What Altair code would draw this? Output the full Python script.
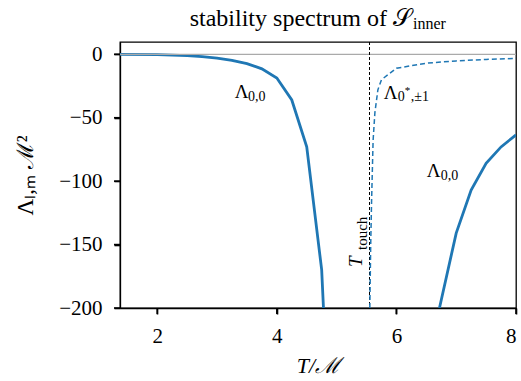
import altair as alt
import pandas as pd

# lower-T branch Λ_{0,0}
T_a = [1.377, 2.0, 2.5, 2.75, 3.0, 3.25, 3.5, 3.75, 4.0, 4.25, 4.5, 4.75, 4.78]
L_a = [0.0, -0.3, -1.0, -1.8, -3.0, -4.8, -7.3, -11.5, -18.7, -36.0, -73.0, -170.0, -200.0]

# dashed branch Λ_{0*,±1}
T_b = [5.555, 5.57, 5.585, 5.61, 5.64, 5.69, 5.75, 6.0, 6.5, 7.0, 7.5, 8.0]
L_b = [-200.0, -150.0, -115.0, -68.0, -46.0, -28.0, -20.0, -11.0, -7.0, -5.2, -4.0, -3.2]

# higher-T branch Λ_{0,0}
T_c = [6.72, 7.0, 7.25, 7.5, 7.75, 8.0]
L_c = [-200.0, -141.0, -107.0, -86.0, -73.0, -63.5]

T_touch = 5.55
x_ticks = [2, 4, 6, 8]
y_ticks = [0, -50, -100, -150, -200]

BLUE = "#1f77b4"
SERIF = "Liberation Serif"

xsc = alt.Scale(domain=[1.377, 8.0], nice=False, zero=False)
ysc = alt.Scale(domain=[-200, 9.7], nice=False, zero=False)

tick_kw = dict(ticks=True, tickSize=6, tickWidth=1.6, tickColor="black", tickOpacity=1,
               domain=True, domainColor="black", domainWidth=1.3,
               labelFont=SERIF, labelFontSize=21, labelColor="black",
               titleFont=SERIF, titleColor="black", titleFontWeight="normal", grid=False)

x_axis = alt.Axis(values=x_ticks, format="d", title="T/ℳ",
                  titleX=198, titleY=64, titleBaseline="alphabetic", titleFontSize=22,
                  titleFontStyle="italic", labelPadding=11, **tick_kw)
y_axis = alt.Axis(values=y_ticks, format="d", title="Λₗ,ₘ ℳ²", titleFontSize=23,
                  titleX=-88, titleY=133, titleAngle=270, labelPadding=12,
                  titleBaseline="alphabetic", titleAlign="center", **tick_kw)


def X():
    return alt.X("T:Q", scale=xsc, axis=x_axis)


def Y():
    return alt.Y("L:Q", scale=ysc, axis=y_axis)


dfa = pd.DataFrame({"T": T_a, "L": L_a})
dfb = pd.DataFrame({"T": T_b, "L": L_b})
dfc = pd.DataFrame({"T": T_c, "L": L_c})

base_a = alt.Chart(dfa).mark_line(color=BLUE, strokeWidth=2.8, clip=True).encode(x=X(), y=Y(), order="T:Q")
base_b = alt.Chart(dfb).mark_line(color=BLUE, strokeWidth=1.5, strokeDash=[5, 3], clip=True).encode(
    x=X(), y=Y(), order="T:Q")
base_c = alt.Chart(dfc).mark_line(color=BLUE, strokeWidth=2.8, clip=True).encode(
    x=X(), y=Y(), order="T:Q")

hline = alt.Chart(pd.DataFrame({"L": [0.0]})).mark_rule(color="#aaaaaa", strokeWidth=1.2).encode(y=Y())
vline = alt.Chart(pd.DataFrame({"T": [T_touch]})).mark_rule(
    color="black", strokeWidth=1, strokeDash=[3, 2]).encode(x=X())

# outward tick marks drawn from the tick value arrays
xt = alt.Chart(pd.DataFrame({"T": x_ticks})).mark_rule(color="black", strokeWidth=1.6, clip=False).encode(
    x=X(), y=alt.value(266), y2=alt.value(272))
yt = alt.Chart(pd.DataFrame({"L": y_ticks})).mark_rule(color="black", strokeWidth=1.6, clip=False).encode(
    y=Y(), x=alt.value(-6), x2=alt.value(0))

# annotation texts (anchor in data coords)
ann_text = ["Λ", "0,0", "Λ", "0", "*", ",±1", "Λ", "0,0"]
ann_T = [3.298, 3.516, 5.788, 6.022, 6.139, 6.239, 6.507, 6.741]
ann_L = [-34.8, -36.8, -35.2, -36.8, -31.0, -36.8, -97.1, -99.1]
ann_size = [19, 14, 19, 14, 11, 14, 19, 14]
ann = pd.DataFrame({"text": ann_text, "T": ann_T, "L": ann_L, "size": ann_size})
labels = alt.Chart(ann).mark_text(align="left", baseline="alphabetic", font=SERIF, color="black").encode(
    x=X(), y=Y(), text="text:N", size=alt.Size("size:Q", scale=None, legend=None))

rot = pd.DataFrame({"text": ["T", "touch"], "T": [5.420, 5.504], "L": [-167.7, -154.3],
                    "size": [19, 15]})
rot_t = alt.Chart(rot.iloc[[0]]).mark_text(align="left", baseline="alphabetic", font=SERIF, angle=270,
                                             fontStyle="italic", color="black").encode(
    x=X(), y=Y(), text="text:N", size=alt.Size("size:Q", scale=None, legend=None))
rot_s = alt.Chart(rot.iloc[[1]]).mark_text(align="left", baseline="alphabetic", font=SERIF, angle=270,
                                             color="black").encode(
    x=X(), y=Y(), text="text:N", size=alt.Size("size:Q", scale=None, legend=None))

title_main = alt.Chart(pd.DataFrame({"t": ["stability spectrum of 𝒮"]})).mark_text(
    align="right", baseline="alphabetic", font=SERIF, fontSize=24, color="black").encode(
    x=alt.value(292), y=alt.value(-16), text="t:N")
title_sub = alt.Chart(pd.DataFrame({"t": ["inner"]})).mark_text(
    align="left", baseline="alphabetic", font=SERIF, fontSize=16, color="black").encode(
    x=alt.value(293), y=alt.value(-13), text="t:N")

chart = alt.layer(base_a, hline, vline, base_b, base_c, xt, yt, labels, rot_t, rot_s,
                  title_main, title_sub).properties(
    width=396, height=266,
    autosize=alt.AutoSizeParams(type="none"),
    padding={"left": 120, "top": 42, "right": 5, "bottom": 73},
).configure_view(stroke="black", strokeWidth=1.3)

chart.save("out.html", embed_options={"renderer": "svg", "actions": False})
